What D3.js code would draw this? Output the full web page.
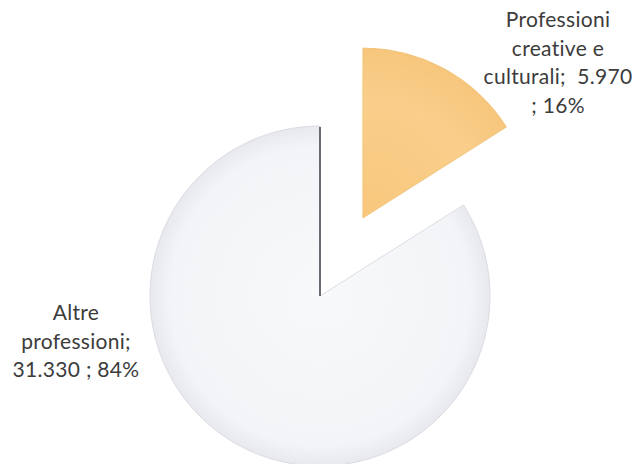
<!DOCTYPE html>
<html>
<head>
<meta charset="utf-8">
<script src="https://cdn.jsdelivr.net/npm/d3@7"></script>
<style>
  html, body { margin: 0; padding: 0; background: #ffffff; }
  svg { display: block; }
  text { font-family: Lato, "Open Sans", sans-serif; fill: #3c3c3c; }
</style>
</head>
<body>
<svg id="chart" width="638" height="464"></svg>
<script>
// Occupati per tipo di professione
const categories = ["Professioni creative e culturali", "Altre professioni"];
const values = [5970, 31330];
const percents = ["16%", "84%"];
const valueLabels = ["5.970", "31.330"];

const W = 638, H = 464;
const cx = 320, cy = 296, R = 170;
const explode = 89;

const svg = d3.select("#chart");
const defs = svg.append("defs");

const gOrange = defs.append("radialGradient").attr("id", "gOrange")
  .attr("gradientUnits", "userSpaceOnUse").attr("cx", 0).attr("cy", 0).attr("r", R);
gOrange.append("stop").attr("offset", "0%").attr("stop-color", "#f8c77c");
gOrange.append("stop").attr("offset", "70%").attr("stop-color", "#f9cf8b");
gOrange.append("stop").attr("offset", "100%").attr("stop-color", "#f6c67c");

const gGrey = defs.append("radialGradient").attr("id", "gGrey")
  .attr("gradientUnits", "userSpaceOnUse").attr("cx", 0).attr("cy", 0).attr("r", R);
gGrey.append("stop").attr("offset", "0%").attr("stop-color", "#f8f9fb");
gGrey.append("stop").attr("offset", "88%").attr("stop-color", "#f3f4f7");
gGrey.append("stop").attr("offset", "100%").attr("stop-color", "#e8e9ee");

const fills = ["url(#gOrange)", "url(#gGrey)"];
const explodes = [explode, 0];

const pie = d3.pie().sort(null).value(d => d).startAngle(0).endAngle(2 * Math.PI);
const arcs = pie(values);
const arc = d3.arc().innerRadius(0).outerRadius(R);

const slices = svg.selectAll("g.slice").data(arcs).enter().append("g")
  .attr("class", "slice")
  .attr("transform", (d, i) => {
    const mid = (d.startAngle + d.endAngle) / 2;
    const dx = Math.sin(mid) * explodes[i];
    const dy = -Math.cos(mid) * explodes[i];
    return `translate(${cx + dx},${cy + dy})`;
  });

slices.append("path")
  .attr("d", arc)
  .attr("fill", (d, i) => fills[i])
  .attr("stroke", (d, i) => i === 0 ? "#f0c077" : "#d4d6dc")
  .attr("stroke-width", 0.8);

// dark leading edge of the larger slice
slices.filter((d, i) => i === 1).append("line")
  .attr("x1", 0).attr("y1", 0)
  .attr("x2", d => Math.sin(d.endAngle) * R)
  .attr("y2", d => -Math.cos(d.endAngle) * R + 1)
  .attr("stroke", "#4a4a55").attr("stroke-width", 1.6);

// data labels
const labelLines = [
  ["Professioni", "creative e", "culturali;  " + valueLabels[0], "; " + percents[0]],
  ["Altre", "professioni;", valueLabels[1] + " ; " + percents[1]]
];
const labelPos = [
  { x: 558, y: 27 },
  { x: 76, y: 320 }
];
const lh = 28.5;

labelLines.forEach((lines, i) => {
  const t = svg.append("text")
    .attr("text-anchor", "middle")
    .attr("font-size", 21)
    .attr("letter-spacing", 0.3)
    .style("white-space", "pre");
  lines.forEach((s, j) => {
    t.append("tspan")
      .attr("x", labelPos[i].x)
      .attr("y", labelPos[i].y + j * lh)
      .text(s);
  });
});
</script>
</body>
</html>
